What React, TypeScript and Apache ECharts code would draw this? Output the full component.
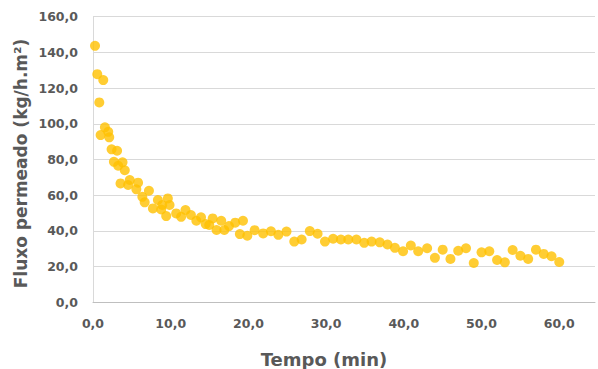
import React, { useEffect, useRef } from "react";
import * as echarts from "echarts";

const tempo: number[] = [
  0.26, 0.55, 0.81, 0.98, 1.32, 1.53, 1.96, 2.09, 2.39, 2.69, 3.1, 3.24, 3.54, 3.8, 4.09, 4.52, 4.73,
  5.58, 5.8, 6.35, 6.65, 7.2, 7.71, 8.35, 8.78, 8.91, 9.42, 9.63, 9.85, 10.7, 11.34, 11.9, 12.6, 13.3,
  13.9, 14.5, 14.96, 15.4, 15.9, 16.5, 16.9, 17.5, 18.3, 18.9, 19.3, 19.86, 20.8, 21.9, 22.9, 23.85,
  24.9, 25.9, 26.85, 27.9, 28.9, 29.85, 30.9, 31.9, 32.85, 33.9, 34.9, 35.85, 36.9, 37.9, 38.85, 39.9,
  40.9, 41.85, 43, 44, 45, 46, 47, 48, 49, 50, 51, 52, 53, 54, 55, 56, 57, 58, 59, 60,
];
const fluxo: number[] = [
  143.7, 127.8, 112, 93.7, 124.5, 98, 95.5, 92.4, 85.7, 78.7, 84.9, 76.5, 66.6, 78.4, 74, 65.7, 68.5,
  63.3, 67, 59.1, 56, 62.5, 52.6, 57.3, 52, 54.5, 48.3, 58.2, 54.5, 49.8, 47.9, 51.7, 48.9, 45.7,
  47.6, 43.8, 43.3, 47, 40.5, 45.7, 40.5, 42.7, 44.6, 38.2, 45.7, 37.3, 40.4, 38.6, 39.8, 37.8,
  39.6, 34, 35.2, 39.9, 38.4, 34, 35.6, 35.2, 35.2, 35.2, 33.3, 34, 33.6, 32.4, 30.5, 28.6,
  31.8, 28.6, 30.3, 24.9, 29.5, 24.3, 28.9, 30.3, 22, 28, 28.6, 23.7, 22.4, 29.3, 26.1, 24.3, 29.5, 27.1, 25.8, 22.6,
];
const xTitle = "Tempo (min)";
const yTitle = "Fluxo permeado (kg/h.m²)";

const fmt = (v: number) => v.toFixed(1).replace(".", ",");

export default function App() {
  const ref = useRef<HTMLDivElement>(null);
  useEffect(() => {
    const chart = echarts.init(ref.current!, null, { renderer: "svg" });
    const font = "'DejaVu Sans', sans-serif";
    chart.setOption({
      animation: false,
      backgroundColor: "#ffffff",
      grid: { left: 93, right: 0, top: 16.7, bottom: 66.7 },
      xAxis: {
        type: "value",
        min: 0,
        max: 64.6,
        interval: 10,
        axisLine: { show: true, lineStyle: { color: "#bfbfbf", width: 1 } },
        axisTick: { show: false },
        splitLine: { show: false },
        axisLabel: {
          margin: 15,
          color: "#595959",
          fontFamily: font,
          fontWeight: "bold",
          fontSize: 12.5,
          formatter: (v: number) => (Math.abs(v % 10) < 1e-9 ? fmt(v) : ""),
        },
      },
      yAxis: {
        type: "value",
        min: 0,
        max: 160,
        interval: 20,
        axisLine: { show: true, lineStyle: { color: "#d9d9d9", width: 1 } },
        axisTick: { show: false },
        splitLine: { show: true, lineStyle: { color: "#d9d9d9", width: 1 } },
        axisLabel: {
          margin: 15,
          color: "#595959",
          fontFamily: font,
          fontWeight: "bold",
          fontSize: 12.5,
          formatter: (v: number) => fmt(v),
        },
      },
      graphic: [
        {
          type: "text",
          x: 324,
          y: 359,
          style: {
            text: xTitle,
            fill: "#595959",
            font: `bold 18px ${font}`,
            textAlign: "center",
            textVerticalAlign: "middle",
          },
        },
        {
          type: "text",
          x: 21,
          y: 163.5,
          rotation: Math.PI / 2,
          style: {
            text: yTitle,
            fill: "#595959",
            font: `bold 17px ${font}`,
            textAlign: "center",
            textVerticalAlign: "middle",
          },
        },
      ],
      series: [
        {
          type: "scatter",
          symbol: "circle",
          symbolSize: 10,
          itemStyle: { color: "#FFC000" },
          data: tempo.map((t, i) => [t, fluxo[i]]),
        },
      ],
    });
    return () => chart.dispose();
  }, []);
  return (
    <div
      ref={ref}
      style={{ position: "absolute", left: 0, top: 0, width: 598, height: 369 }}
    />
  );
}
